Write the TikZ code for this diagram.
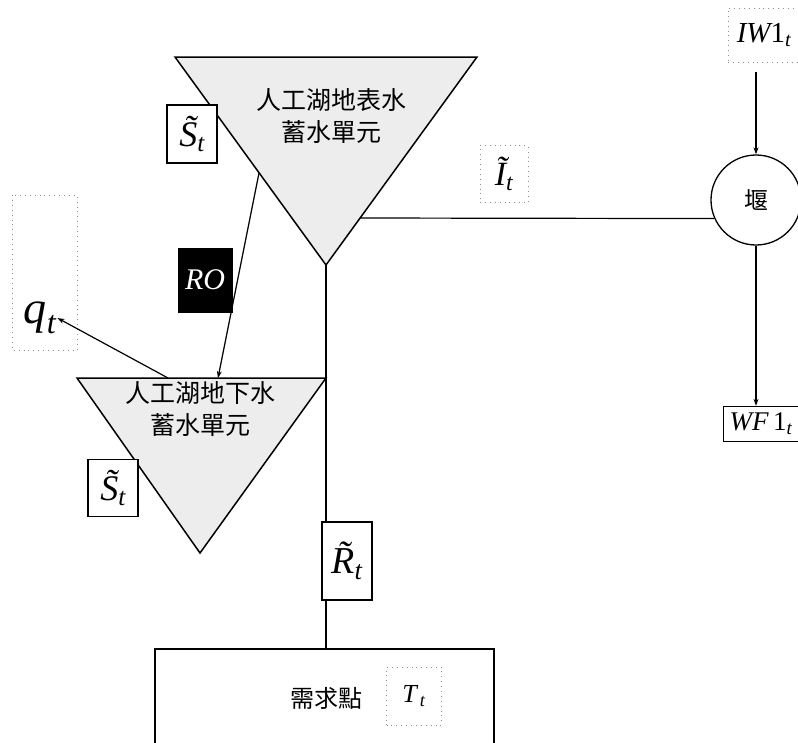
\documentclass[tikz,border=0pt]{standalone}
\usepackage{fontspec}
\newfontfamily\cjk{Noto Sans CJK TC}
\newfontfamily\tms{Liberation Serif}
\usetikzlibrary{calc,arrows.meta}

\tikzset{
  edge/.style={line width=1.2pt},
  flow/.style={line width=1.2pt, -{Stealth[length=7pt,width=5pt]}},
  pool/.style={line width=1.5pt, fill=black!7},
  varbox/.style={draw, line width=1.3pt, fill=white, inner sep=0pt},
  faintbox/.style={draw=black!45, line width=0.9pt, loosely dotted, inner sep=0pt},
}
\newcommand{\vname}[2]{{\tms\itshape #1\textsubscript{#2}}}

\begin{document}
\begin{tikzpicture}[x=1pt, y=-1pt]
          \useasboundingbox (0,0) rectangle (798,742);
          % lake storage units
          \coordinate (ua) at (175,57);
          \coordinate (ub) at (477,57);
          \coordinate (uc) at (326,265);
          \coordinate (la) at (77,378);
          \coordinate (lb) at (326,378);
          \coordinate (lc) at (200,553);
          \draw[pool] (ua) -- (ub) -- (uc) -- cycle;
          \draw[pool] (la) -- (lb) -- (lc) -- cycle;
          \node[align=center, font=\cjk\fontsize{25}{32}\selectfont] (surf) at (331,116) {人工湖地表水\\蓄水單元};
          \node[align=center, font=\cjk\fontsize{25}{32}\selectfont] (ground) at (200,409) {人工湖地下水\\蓄水單元};
          %
          \node[varbox, minimum width=50, minimum height=58, font=\fontsize{36}{36}\selectfont] (su) at (192,134) {\vname{\~S}{t}};
          \node[varbox, minimum width=50, minimum height=57, font=\fontsize{36}{36}\selectfont] (sl) at (113,488) {\vname{\~S}{t}};
          \node[fill=black, text=white, minimum width=55, minimum height=65, inner sep=0pt, font=\tms\itshape\fontsize{30}{30}\selectfont] (ro) at (205,280) {RO};
          \node[varbox, minimum width=50, minimum height=78, font=\fontsize{38}{38}\selectfont] (rt) at (347,561) {\vname{\~R}{t}};
          \node[faintbox, minimum width=48, minimum height=57, font=\fontsize{34}{34}\selectfont] (it) at (504,174) {\vname{\~I}{t}};
          \node[font=\fontsize{46}{46}\selectfont, inner sep=1pt] (qt) at (40,318) {\vname{q}{t}};
          \draw[faintbox] (12,195) rectangle (77,350);
          %
          \node[circle, draw, line width=1.3pt, minimum size=90, inner sep=0pt, font=\cjk\fontsize{24}{24}\selectfont] (weir) at (756,200) {堰};
          \node[faintbox, minimum width=72, minimum height=54, font=\fontsize{29}{29}\selectfont] (iw) at (764,35) {\vname{IW{\upshape 1}}{t}};
          \node[varbox, minimum width=75, minimum height=35, font=\fontsize{27}{27}\selectfont] (wf) at (761,424) {\vname{WF\,{\upshape 1}}{t}};
          %
          \node[font=\cjk\fontsize{24}{24}\selectfont] (demand) at (326,698) {需求點};
          \node[faintbox, minimum width=55, minimum height=58, font=\fontsize{26}{26}\selectfont] (tt) at (414,696) {\vname{T}{\,t}};
          \draw[edge] (155,745) |- (494,649) -- (494,745);
          \coordinate (dem) at (326,649);
          %
          \coordinate (ui) at (360,218);
          \coordinate (ul) at (259,173);
          \coordinate (lt) at (218,378);
          \coordinate (lq) at (168,378);
          \draw[edge] (ui) -- (weir.204);
          \draw[flow] ($(weir.north |- iw.south)+(0,10)$) -- (weir.north);
          \draw[flow] (weir.south) -- (weir.south |- wf.north);
          \draw[flow] (ul) -- (lt);
          \draw[flow] (lq) -- (qt.east);
          \draw[edge] (uc) -- (uc |- rt.north);
          \draw[edge] (uc |- rt.south) -- (dem);
        \end{tikzpicture}
\end{document}
